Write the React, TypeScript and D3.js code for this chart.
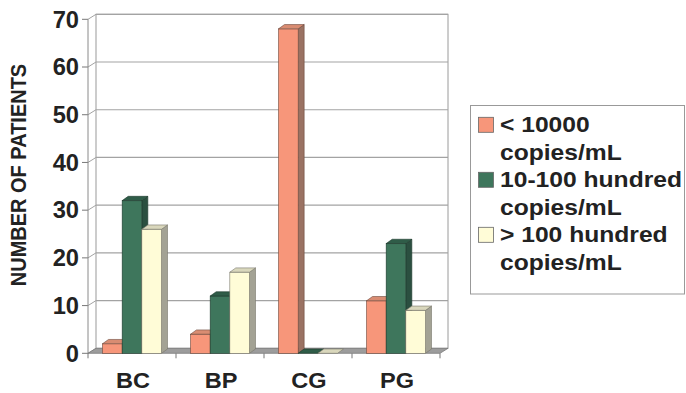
import React from "react";
import * as d3 from "d3";

const categories = ["BC", "BP", "CG", "PG"];
const low = [2, 4, 68, 11];
const mid = [32, 12, 0, 23];
const high = [26, 17, 0, 9];
const yTicks = [0, 10, 20, 30, 40, 50, 60, 70];
const legendLines = [
  ["< 10000", "copies/mL"],
  ["10-100 hundred", "copies/mL"],
  ["> 100 hundred", "copies/mL"],
];

const palette = [
  { front: "#F7967A", side: "#9A7263", top: "#D98C72", stroke: "#6E4A3E" },
  { front: "#3E765C", side: "#2B4F40", top: "#2F5C48", stroke: "#1F3A2E" },
  { front: "#FFFCD7", side: "#A3A294", top: "#D9D7BC", stroke: "#77766A" },
];

const W = 686;
const H = 393;
const FONT = "'Liberation Sans', Arial, Helvetica, sans-serif";

export default function App() {
  const values = [low, mid, high];
  const x = d3.scaleBand<string>().domain(categories).range([88, 440]).paddingInner(0).paddingOuter(0);
  const y = d3.scaleLinear().domain([0, 70]).range([353.3, 19.3]);
  const dx = 8;
  const dy = -5;
  const bdx = 6;
  const bdy = -4.3;
  const groupW = 59;
  const inner = d3.scaleBand<number>().domain([0, 1, 2]).range([0, groupW]);
  const bw = inner.bandwidth();
  const x0 = 88;
  const x1 = 440;
  const yBottom = y(0);

  const bars: React.ReactNode[] = [];
  categories.forEach((c, ci) => {
    const gx = (x(c) as number) + x.bandwidth() / 2 - groupW / 2;
    [0, 1, 2].forEach((si) => {
      const v = values[si][ci];
      const p = palette[si];
      const bx = gx + (inner(si) as number);
      const ty = y(v);
      const key = `${ci}-${si}`;
      const top = `${bx},${ty} ${bx + bw},${ty} ${bx + bw + bdx},${ty + bdy} ${bx + bdx},${ty + bdy}`;
      const side = `${bx + bw},${ty} ${bx + bw + bdx},${ty + bdy} ${bx + bw + bdx},${yBottom + bdy} ${bx + bw},${yBottom}`;
      bars.push(
        <g key={key}>
          {v > 0 && (
            <polygon points={side} fill={p.side} stroke={p.stroke} strokeWidth={0.6} />
          )}
          {v > 0 && (
            <rect x={bx} y={ty} width={bw} height={yBottom - ty} fill={p.front} stroke={p.stroke} strokeWidth={0.6} />
          )}
          <polygon points={top} fill={p.top} stroke={p.stroke} strokeWidth={0.6} />
        </g>
      );
    });
  });

  return (
    <svg width={W} height={H} style={{ position: "absolute", left: 0, top: 0 }} fontFamily={FONT}>
      <rect width={W} height={H} fill="#ffffff" />
      {/* back wall */}
      <rect x={x0 + dx} y={y(70) + dy} width={x1 - x0} height={y(0) - y(70)} fill="#ffffff" stroke="#9a9a9a" strokeWidth={1} />
      {/* gridlines */}
      {yTicks.map((t) => (
        <g key={t}>
          {t > 0 && (
            <line x1={x0 + dx} x2={x1 + dx} y1={y(t) + dy} y2={y(t) + dy} stroke="#a3a3a3" strokeWidth={1.2} />
          )}
          <line x1={x0} x2={x0 + dx} y1={y(t)} y2={y(t) + dy} stroke="#a3a3a3" strokeWidth={1} />
          <line x1={x0 - 6} x2={x0} y1={y(t)} y2={y(t)} stroke="#777" strokeWidth={1} />
          <text
            transform={`translate(79,${y(t)}) scale(1.03,1)`}
            dy="0.36em"
            textAnchor="end"
            fontSize={23}
            fontWeight="bold"
            fill="#222"
          >
            {t}
          </text>
        </g>
      ))}
      {/* left axis */}
      <line x1={x0} x2={x0} y1={y(70)} y2={y(0)} stroke="#8a8a8a" strokeWidth={1} />
      {/* floor */}
      <polygon
        points={`${x0},${y(0)} ${x1},${y(0)} ${x1 + dx},${y(0) + dy} ${x0 + dx},${y(0) + dy}`}
        fill="#9c9c9c"
        stroke="#7a7a7a"
        strokeWidth={0.8}
      />
      {/* category ticks */}
      {[...categories.map((c) => x(c) as number), x1].map((tx, i) => (
        <line key={i} x1={tx} x2={tx} y1={y(0)} y2={y(0) + 5} stroke="#777" strokeWidth={1} />
      ))}
      {bars}
      {/* category labels */}
      {categories.map((c) => (
        <text
          key={c}
          transform={`translate(${(x(c) as number) + x.bandwidth() / 2 + 1},388) scale(1.07,1)`}
          textAnchor="middle"
          fontSize={22}
          fontWeight="bold"
          fill="#222"
        >
          {c}
        </text>
      ))}
      {/* y title */}
      <text transform="translate(26,175) rotate(-90) scale(0.93,1)" textAnchor="middle" fontSize={21.5} fontWeight="bold" fill="#222">
        NUMBER OF PATIENTS
      </text>
      {/* legend */}
      <rect x={470.5} y={105.5} width={214} height={188.5} fill="#ffffff" stroke="#999" strokeWidth={1} />
      {legendLines.map((lines, i) => {
        const base = 132.3 + i * 55;
        return (
          <g key={i}>
            <rect x={478.5} y={base - 15} width={15} height={15} fill={palette[i].front} stroke="#666" strokeWidth={0.8} />
            <text transform={`translate(500,${base}) scale(1.12,1)`} fontSize={22} fontWeight="bold" fill="#222">
              {lines[0]}
            </text>
            <text transform={`translate(500,${base + 27.7}) scale(1.12,1)`} fontSize={22} fontWeight="bold" fill="#222">
              {lines[1]}
            </text>
          </g>
        );
      })}
    </svg>
  );
}
